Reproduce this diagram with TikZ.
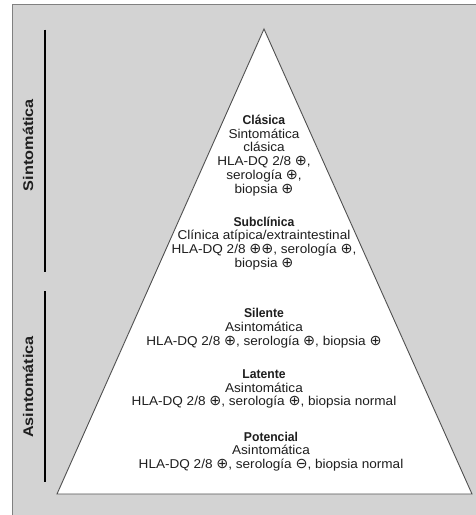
\documentclass[tikz,border=0pt]{standalone}
\usepackage{fontspec}
\setmainfont{Liberation Sans}[FakeStretch=1.06, BoldFeatures={FakeStretch=0.95}]
\newfontfamily\sidefont{Liberation Sans}[FakeStretch=1.16]
\newfontfamily\symfont{DejaVu Sans}[Scale=1.12]
\definecolor{panelgray}{HTML}{D3D3D3}
\definecolor{framegray}{HTML}{808080}
\definecolor{edgegray}{HTML}{505050}
\definecolor{ink}{HTML}{1E1E1E}
\tikzset{
  level/.style={align=center, text=ink, inner sep=0pt,
    font=\fontsize{12.8}{13.8}\selectfont},
  side/.style={rotate=90, text=ink, inner sep=0pt,
    font=\sidefont\bfseries\fontsize{14}{14}\selectfont},
  bracket/.style={draw=black, line width=1.1pt},
}
\newcommand{\pos}{{\symfont ⊕}}
\newcommand{\nega}{{\symfont ⊖}}
\begin{document}
\begin{tikzpicture}[x=1pt, y=-1pt]
  \useasboundingbox (0,0) rectangle (476,515);
  % panel
  \fill[panelgray] (12.5,4.5) rectangle (476,515);
  \draw[framegray, line width=1.2pt] (12.5,515) -- (12.5,4.5) -- (476,4.5);
  % pyramid
  \coordinate (apex) at (264,29);
  \coordinate (bl) at (57,494);
  \coordinate (br) at (472,494);
  \filldraw[fill=white, draw=edgegray, line width=0.9pt, line join=miter]
    (bl) -- (apex) -- (br) -- cycle;
  % side brackets
  \coordinate (s1) at (45,29.5);
  \coordinate (s2) at (45,272);
  \coordinate (a1) at (45,291);
  \coordinate (a2) at (45,482);
  \draw[bracket] (s1) -- (s2);
  \draw[bracket] (a1) -- (a2);
  \node[side] (sint) at (28,145) {Sintomática};
  \node[side] (asint) at (28,387) {Asintomática};
  % levels
  \node[level] (clasica) at (264,155.5) {\textbf{Clásica}\\Sintomática\\clásica\\HLA-DQ 2/8 \pos,\\serología \pos,\\biopsia \pos};
  \node[level] (subcl) at (264,243.5) {\textbf{Subclínica}\\Clínica atípica/extraintestinal\\HLA-DQ 2/8 \pos\pos, serología \pos,\\biopsia \pos};
  \node[level] (silente) at (264,328) {\textbf{Silente}\\Asintomática\\HLA-DQ 2/8 \pos, serología \pos, biopsia \pos};
  \node[level] (latente) at (264,389) {\textbf{Latente}\\Asintomática\\HLA-DQ 2/8 \pos, serología \pos, biopsia normal};
  \node[level] (potencial) at (271,451.5) {\textbf{Potencial}\\Asintomática\\HLA-DQ 2/8 \pos, serología \nega, biopsia normal};
\end{tikzpicture}
\end{document}
